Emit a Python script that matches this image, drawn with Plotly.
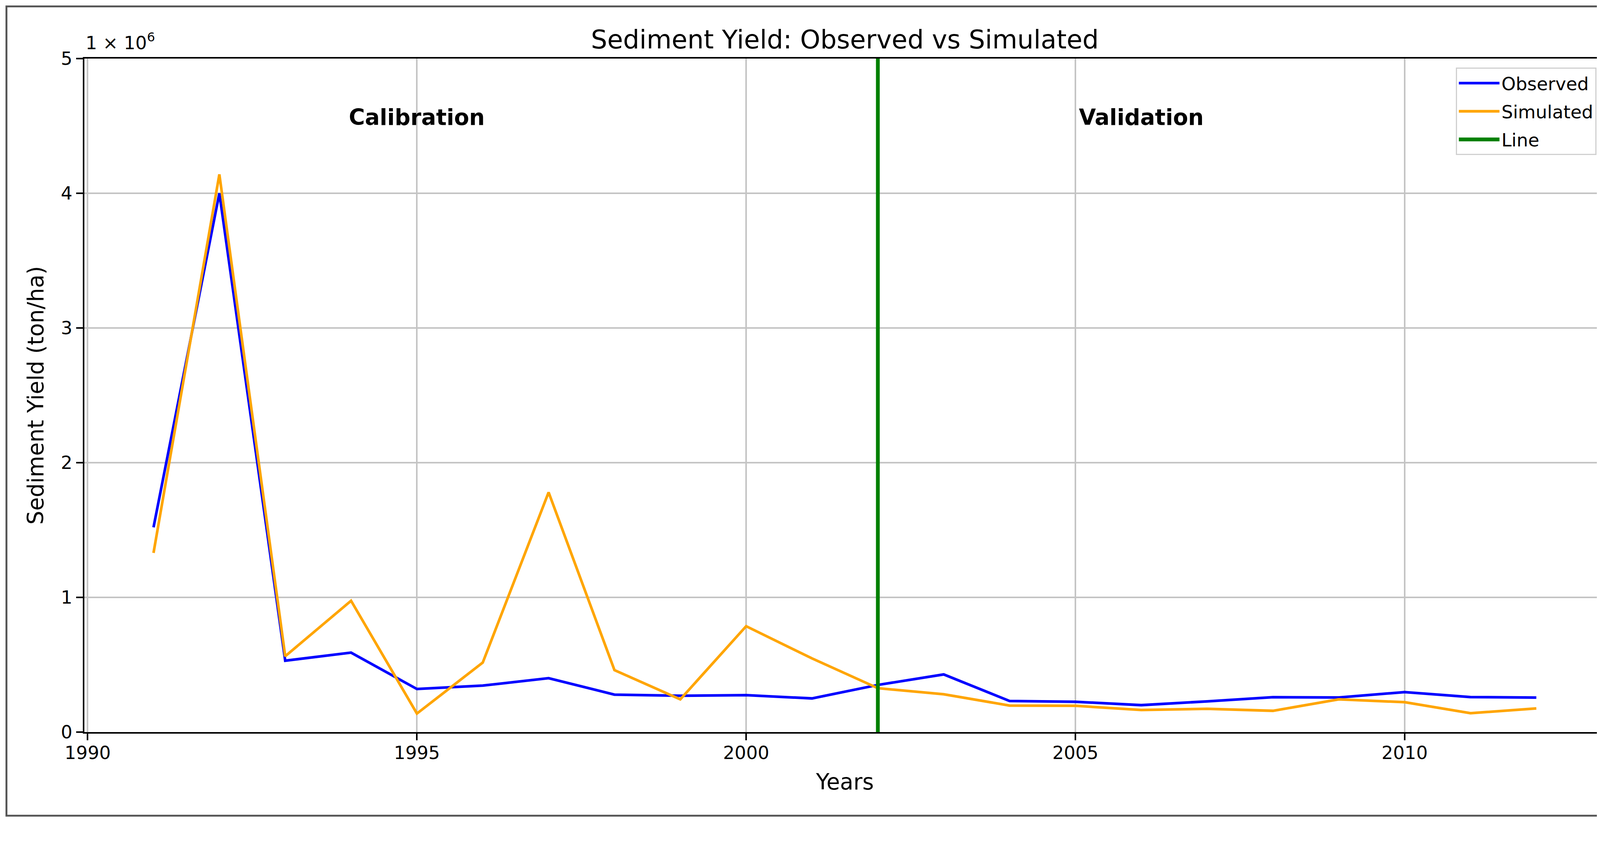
import plotly.graph_objects as go

years = list(range(1991, 2013))
observed = [1.52e6, 4.00e6, 0.53e6, 0.59e6, 0.32e6, 0.345e6, 0.40e6, 0.278e6, 0.27e6, 0.274e6, 0.25e6,
            0.35e6, 0.428e6, 0.231e6, 0.225e6, 0.20e6, 0.228e6, 0.259e6, 0.257e6, 0.297e6, 0.26e6, 0.256e6]
simulated = [1.33e6, 4.14e6, 0.563e6, 0.975e6, 0.1375e6, 0.516e6, 1.78e6, 0.46e6, 0.243e6, 0.786e6, 0.547e6,
             0.326e6, 0.281e6, 0.197e6, 0.195e6, 0.164e6, 0.173e6, 0.158e6, 0.243e6, 0.222e6, 0.140e6, 0.176e6]
split_year = 2002
y_ticks = [0, 1e6, 2e6, 3e6, 4e6, 5e6]
y_tick_labels = ["0", "1", "2", "3", "4", "5"]
x_ticks = [1990, 1995, 2000, 2005, 2010]
period_labels = ["Calibration", "Validation"]
period_x = [1995, 2006]

# page-to-screenshot scale compensation
K = 1 / 1.0327
OFF = 8  # body margin


def fx(v):
    return v * K - OFF


def s(v):
    return v * K


W = round(4315 * K) - OFF
H = round(2177 * K) - OFF
L = fx(223)
T = fx(155)
R = W - fx(4244)
B = H - fx(1936)
pw = W - L - R
ph = H - T - B
FONT = "DejaVu Sans"

fig = go.Figure()
fig.add_trace(go.Scatter(x=years, y=observed, mode="lines", name="Observed", legendgroup="a",
                         line=dict(color="blue", width=s(7))))
fig.add_trace(go.Scatter(x=years, y=simulated, mode="lines", name="Simulated", legendgroup="b",
                         line=dict(color="orange", width=s(7))))
fig.add_trace(go.Scatter(x=[split_year, split_year], y=[y_ticks[0], y_ticks[-1]], mode="lines", name="Line",
                         legendgroup="c", line=dict(color="green", width=s(10))))

for lab, xv in zip(period_labels, period_x):
    fig.add_annotation(x=xv, y=4.565e6, text="<b>%s</b>" % lab, showarrow=False,
                       xanchor="center", yanchor="middle",
                       font=dict(family=FONT, size=s(58), color="black"))

# offset text
fig.add_annotation(xref="paper", yref="paper", x=(fx(224) - L) / pw, y=(fx(1936) - fx(144)) / ph,
                   text="1 × 10<sup>6</sup>", showarrow=False, xanchor="left", yanchor="bottom",
                   font=dict(family=FONT, size=s(48), color="black"))

# outer figure frame
fig.add_shape(type="rect", xref="paper", yref="paper",
              x0=(fx(17) - L) / pw, x1=(fx(4297) - L) / pw,
              y0=(fx(1936) - fx(2157)) / ph, y1=(fx(1936) - fx(17)) / ph,
              line=dict(color="#555555", width=s(5)), fillcolor="rgba(0,0,0,0)", layer="below")

fig.update_layout(
    width=W, height=H,
    margin=dict(l=L, r=R, t=T, b=B),
    paper_bgcolor="white", plot_bgcolor="white",
    font=dict(family=FONT, color="black", size=s(48)),
    title=dict(text="Sediment Yield: Observed vs Simulated", x=(L + pw / 2) / W, xanchor="center",
               y=1 - fx(104) / H, yanchor="middle", font=dict(family=FONT, size=s(68), color="black")),
    showlegend=True,
    legend=dict(x=(fx(4220) - L) / pw, y=(fx(1936) - fx(179)) / ph, xanchor="right", yanchor="top",
                bgcolor="rgba(255,255,255,0.8)", bordercolor="#d0d0d0", borderwidth=s(3),
                font=dict(family=FONT, size=s(48), color="black"), tracegroupgap=s(9),
                itemwidth=round(s(107))),
)
fig.update_xaxes(range=[1989.95, 2013.05], tickvals=x_ticks, ticks="outside", ticklen=s(18), tickwidth=s(4),
                 tickcolor="black", showline=True, linewidth=s(4), linecolor="black", mirror=True,
                 showgrid=True, gridcolor="#c4c4c4", gridwidth=s(4), zeroline=False,
                 ticklabelstandoff=-8,
                 tickfont=dict(family=FONT, size=s(48), color="black"),
                 title=dict(text="Years", font=dict(family=FONT, size=s(58), color="black"), standoff=s(30)))
fig.update_yaxes(range=[0, 5e6], tickvals=y_ticks, ticktext=y_tick_labels, ticks="outside", ticklen=s(18),
                 tickwidth=s(4), tickcolor="black", showline=True, linewidth=s(4), linecolor="black", mirror=True,
                 showgrid=True, gridcolor="#c4c4c4", gridwidth=s(4), zeroline=False,
                 tickfont=dict(family=FONT, size=s(48), color="black"),
                 title=dict(text="Sediment Yield (ton/ha)", font=dict(family=FONT, size=s(58), color="black"),
                            standoff=s(28)))

fig.write_html("out.html")
